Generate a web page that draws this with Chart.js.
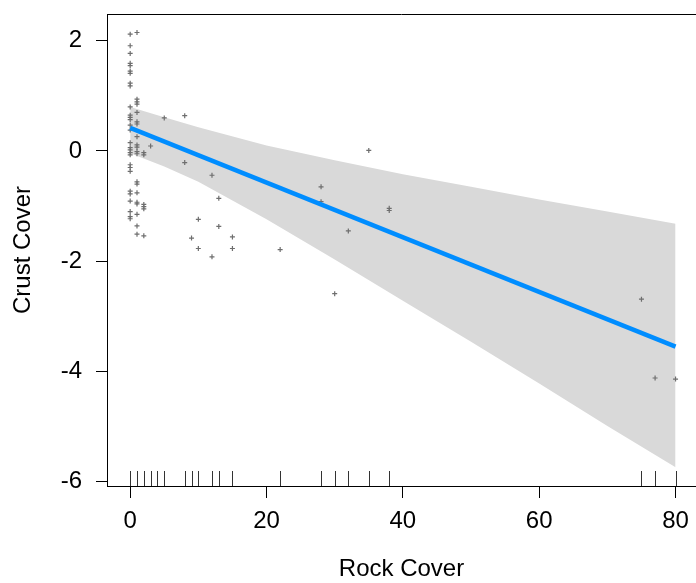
<!DOCTYPE html>
<html>
<head>
<meta charset="utf-8">
<script src="https://cdn.jsdelivr.net/npm/chart.js@4.4.1/dist/chart.umd.min.js"></script>
<style>
  html, body { margin: 0; padding: 0; background: #fff; }
  #wrap { width: 696px; height: 583px; }
</style>
</head>
<body>
<div id="wrap"><canvas id="c" width="696" height="583"></canvas></div>
<script>
// ---- data ----
const xTicks = [0, 20, 40, 60, 80];
const yTicks = [-6, -4, -2, 0, 2];

// partial residuals (Rock Cover, Crust Cover)
const pointX = [
  0,0,0,0,0,0,0,0,0,0,0,0,0,0,0,0,0,0,0,0,0,0,0,0,0,0,0,0,0,
  1,1,1,1,1,1,1,1,1,1,1,1,1,1,1,1,1,1,1,1,
  2,2,2,2,2,2,
  3,5,8,8,9,10,10,12,12,13,13,15,15,22,28,28,30,32,35,38,38,75,77,80
];
const pointY = [
  2.12,1.91,1.77,1.59,1.55,1.45,1.41,1.23,1.18,0.80,0.65,0.61,0.57,0.47,0.38,0.15,0.06,0.02,-0.03,-0.07,-0.25,-0.30,-0.37,-0.73,-0.78,-0.91,-1.10,-1.19,-1.23,
  2.15,0.94,0.89,0.85,0.70,0.53,0.49,0.26,0.11,0.07,-0.01,-0.05,-0.56,-0.60,-0.76,-0.93,-0.96,-1.15,-1.36,-1.51,
  -0.03,-0.07,-0.97,-1.01,-1.05,-1.54,
  0.09,0.60,0.64,-0.21,-1.58,-1.24,-1.77,-0.44,-1.92,-0.86,-1.37,-1.56,-1.77,-1.79,-0.65,-0.92,-2.59,-1.45,0.01,-1.04,-1.08,-2.69,-4.12,-4.14
];

// fitted line
const fitX = [0, 80];
const fitY = [0.42, -3.55];

// confidence band
const bandX     = [0, 5, 10, 20, 30, 40, 50, 60, 70, 80];
const bandUpper = [0.80, 0.61, 0.43, 0.10, -0.17, -0.42, -0.65, -0.88, -1.10, -1.32];
const bandLower = [-0.04, -0.28, -0.56, -1.24, -1.97, -2.72, -3.46, -4.22, -4.99, -5.74];

// rug (observed x values)
const rugX = [0,1,2,3,4,5,8,9,10,12,13,15,22,28,30,32,35,38,75,77,80];

// ---- chart ----
const FONT = '"Liberation Sans", Arial, sans-serif';
const zip = (xs, ys) => xs.map((v, i) => ({ x: v, y: ys[i] }));
const noPad = s => { s.paddingTop = 0; s.paddingBottom = 0; s.paddingLeft = 0; s.paddingRight = 0; };

const rStyle = {
  id: 'rStyle',
  afterDatasetsDraw(chart) {
    const { ctx, chartArea: a, scales: { x } } = chart;
    ctx.save();
    ctx.lineWidth = 1;
    ctx.strokeStyle = '#000';
    ctx.beginPath();
    ctx.moveTo(a.left, a.top + 0.5);
    ctx.lineTo(a.right, a.top + 0.5);
    ctx.stroke();
    ctx.strokeStyle = '#333';
    rugX.forEach(v => {
      const px = Math.round(x.getPixelForValue(v)) + 0.5;
      ctx.beginPath();
      ctx.moveTo(px, a.bottom);
      ctx.lineTo(px, a.bottom - 15);
      ctx.stroke();
    });
    ctx.restore();
  }
};

new Chart(document.getElementById('c'), {
  type: 'scatter',
  data: {
    datasets: [
      {
        type: 'line', data: zip(bandX, bandUpper), fill: '+1',
        backgroundColor: '#D9D9D9', borderWidth: 0, borderColor: 'rgba(0,0,0,0)',
        pointRadius: 0, tension: 0, order: 3
      },
      {
        type: 'line', data: zip(bandX, bandLower), fill: false,
        borderWidth: 0, borderColor: 'rgba(0,0,0,0)',
        pointRadius: 0, tension: 0, order: 3
      },
      {
        type: 'line', data: zip(fitX, fitY), fill: false,
        borderColor: '#008DFF', borderWidth: 4.5, pointRadius: 0, tension: 0, order: 1
      },
      {
        data: zip(pointX, pointY), pointStyle: 'cross', pointRadius: 2.5,
        borderColor: '#6E6E6E', backgroundColor: '#6E6E6E', pointBorderWidth: 1.2, order: 2
      }
    ]
  },
  options: {
    responsive: false,
    animation: false,
    devicePixelRatio: 1,
    layout: { autoPadding: false, padding: { top: 14, right: 0, left: 0, bottom: 0 } },
    plugins: { legend: { display: false }, tooltip: { enabled: false } },
    scales: {
      x: {
        type: 'linear', min: -3.4, max: 83.0,
        afterBuildTicks: s => { s.ticks = xTicks.map(v => ({ value: v })); },
        afterFit: s => { s.height = 97; noPad(s); },
        grid: { display: true, drawOnChartArea: false, drawTicks: true, tickLength: 12, color: '#000', lineWidth: 1 },
        border: { display: true, color: '#000', width: 1 },
        ticks: { color: '#000', padding: 9, font: { family: FONT, size: 24 }, callback: v => String(v), maxRotation: 0, autoSkip: false },
        title: { display: true, text: 'Rock Cover', color: '#000', font: { family: FONT, size: 24, lineHeight: 1.1 }, padding: { top: 0, bottom: 0 } }
      },
      y: {
        type: 'linear', min: -6.08, max: 2.486,
        afterBuildTicks: s => { s.ticks = yTicks.map(v => ({ value: v })); },
        afterFit: s => { s.width = 107; noPad(s); },
        grid: { display: true, drawOnChartArea: false, drawTicks: true, tickLength: 11, color: '#000', lineWidth: 1 },
        border: { display: true, color: '#000', width: 1 },
        ticks: { color: '#000', padding: 14, font: { family: FONT, size: 24 }, callback: v => String(v), autoSkip: false },
        title: { display: true, text: 'Crust Cover', color: '#000', font: { family: FONT, size: 24, lineHeight: 1.1 }, padding: { top: 10, bottom: 0 } }
      }
    }
  },
  plugins: [rStyle]
});
</script>
</body>
</html>
